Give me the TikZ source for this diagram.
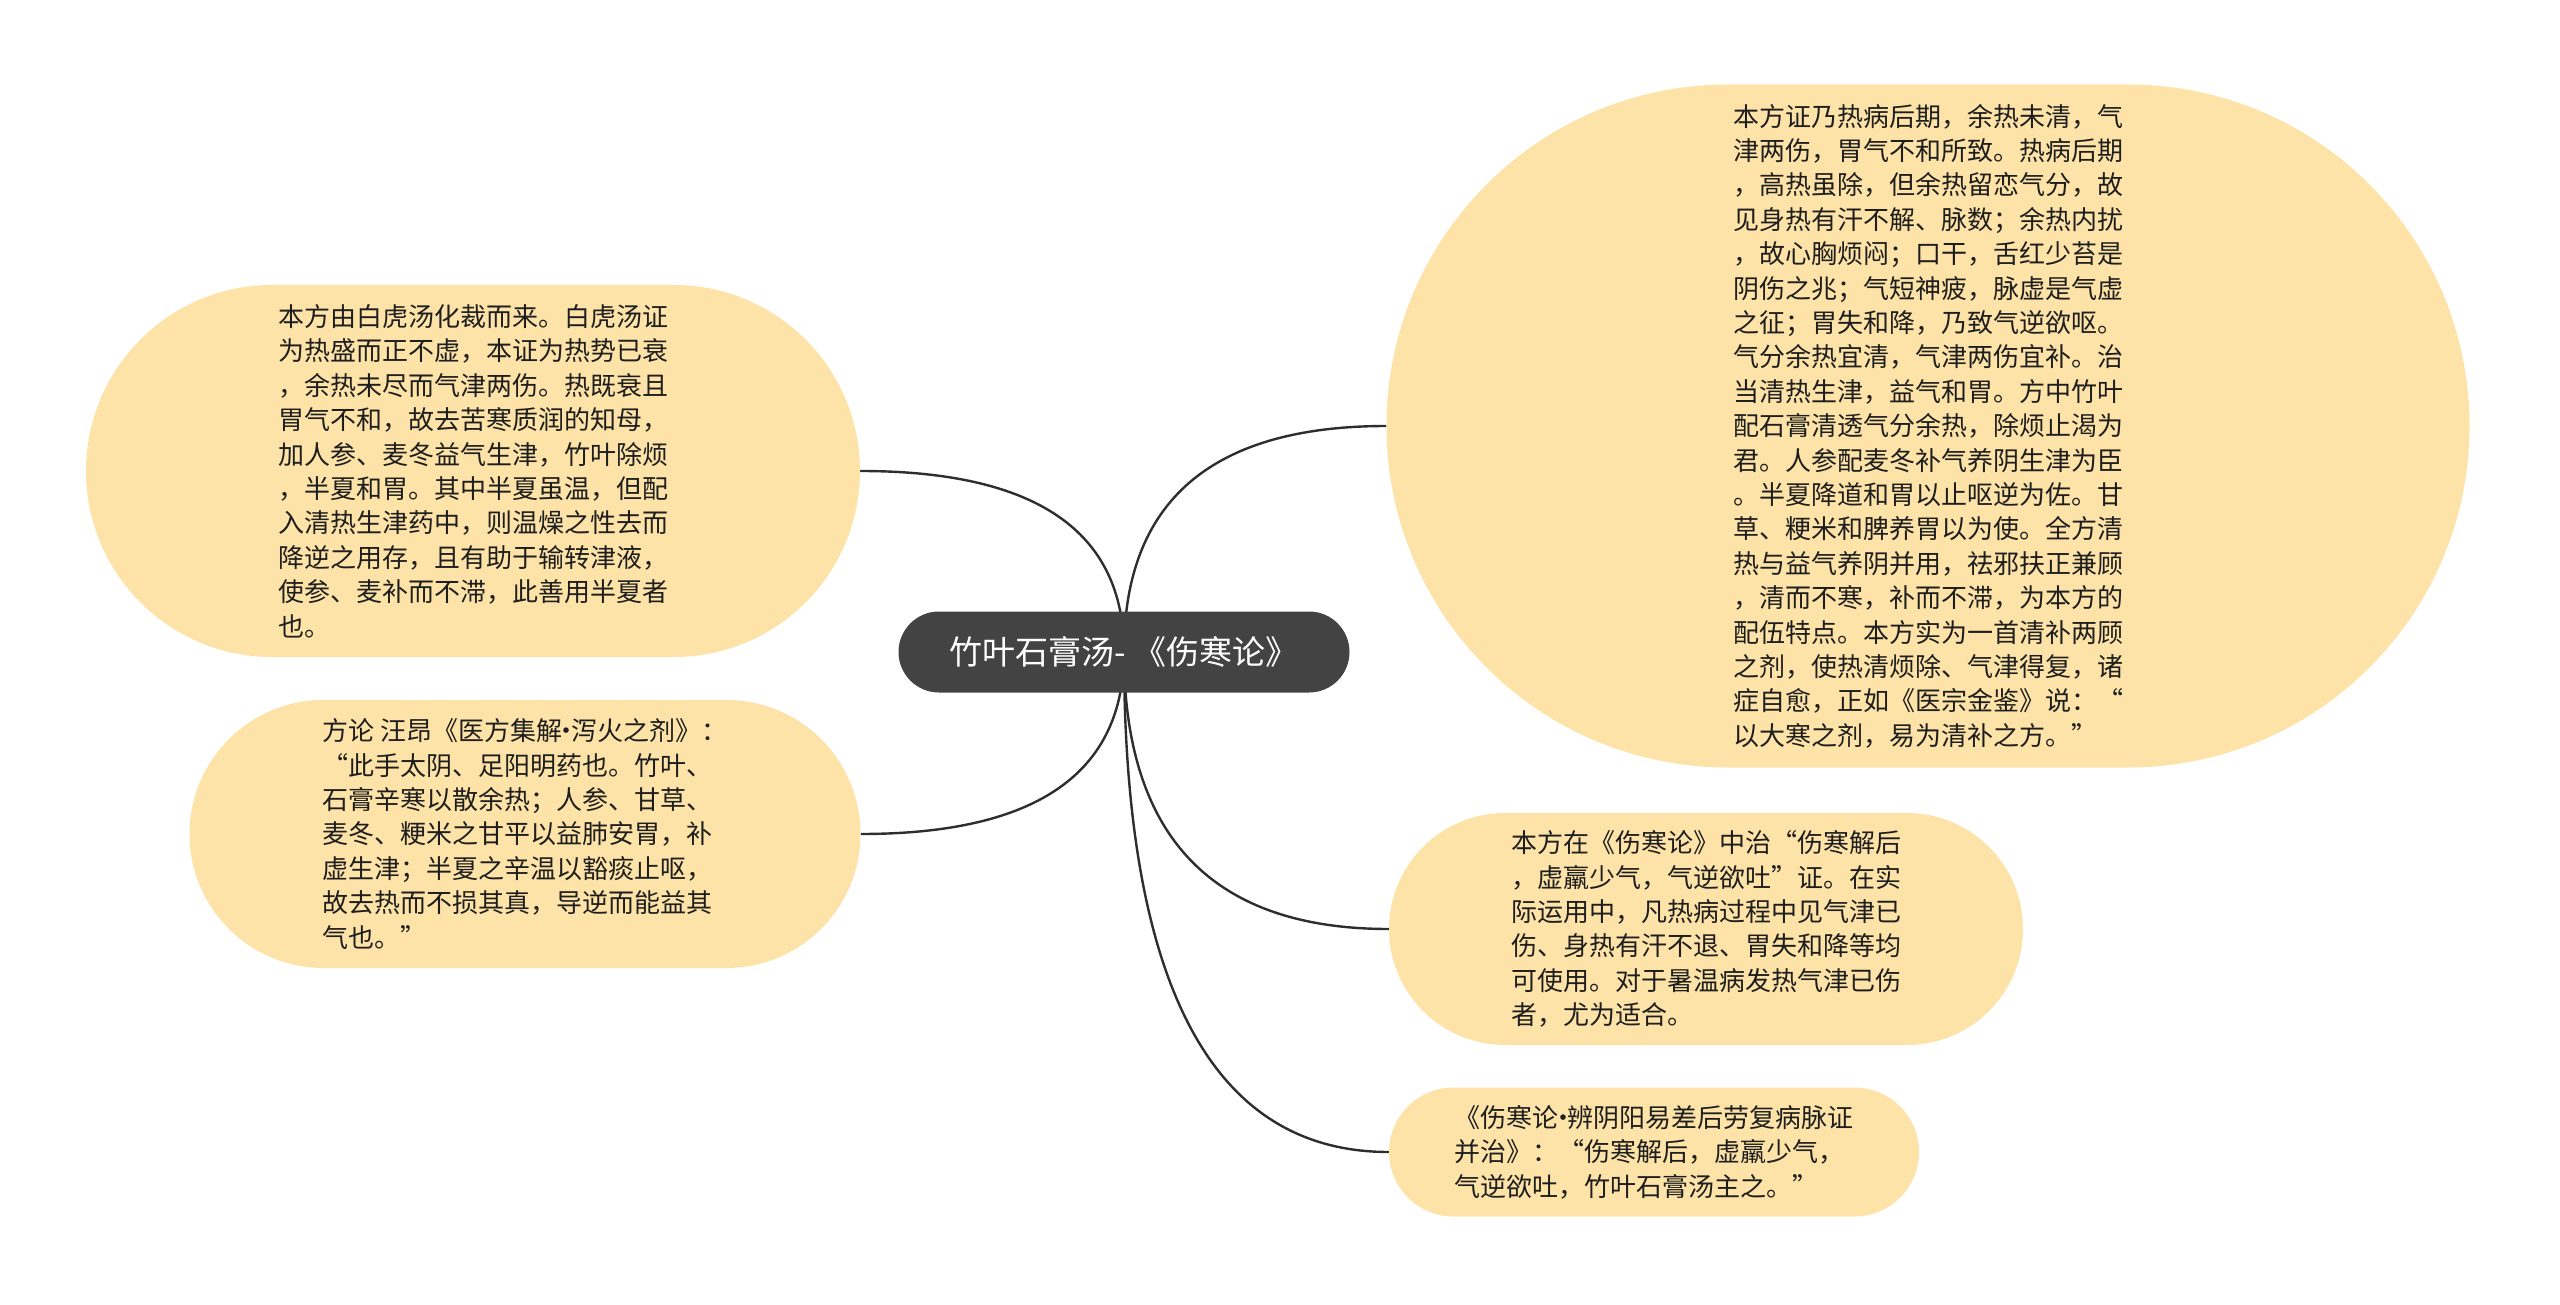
\documentclass[tikz,border=0pt]{standalone}
\usepackage{fontspec}
\newfontfamily\cjk{Noto Sans CJK SC}
\usetikzlibrary{shapes.misc,calc,backgrounds}
\definecolor{zhuti}{HTML}{434343}
\definecolor{ye}{HTML}{FDE3A8}
\definecolor{xian}{HTML}{2E2E2E}
\definecolor{zi}{HTML}{1E1E1E}
% 窄间隔号
\newcommand\jiandian{\makebox[.35em]{·}}
\tikzset{
  zhong/.style={rounded rectangle, fill=zhuti, text=white, inner sep=0pt,
    font=\cjk\fontsize{33}{40}\selectfont},
  zhi/.style={rounded rectangle, fill=ye, text=zi, align=left, inner sep=0pt,
    font=\cjk\fontsize{26}{34.4}\selectfont},
  lian/.style={draw=xian, line width=2.4pt}
}

\begin{document}
\begin{tikzpicture}[x=1pt,y=-1pt]
\useasboundingbox (0,0) rectangle (2560,1305);

% 中心主题
\node[zhong, minimum width=451pt, minimum height=81pt] (root) at (1124,652) {竹叶石膏汤- 《伤寒论》};

% 右侧分支
\node[zhi, minimum width=1083pt, minimum height=683pt] (bingji) at (1928,426) {本方证乃热病后期，余热未清，气\\
津两伤，胃气不和所致。热病后期\\
，高热虽除，但余热留恋气分，故\\
见身热有汗不解、脉数；余热内扰\\
，故心胸烦闷；口干，舌红少苔是\\
阴伤之兆；气短神疲，脉虚是气虚\\
之征；胃失和降，乃致气逆欲呕。\\
气分余热宜清，气津两伤宜补。治\\
当清热生津，益气和胃。方中竹叶\\
配石膏清透气分余热，除烦止渴为\\
君。人参配麦冬补气养阴生津为臣\\
。半夏降道和胃以止呕逆为佐。甘\\
草、粳米和脾养胃以为使。全方清\\
热与益气养阴并用，祛邪扶正兼顾\\
，清而不寒，补而不滞，为本方的\\
配伍特点。本方实为一首清补两顾\\
之剂，使热清烦除、气津得复，诸\\
症自愈，正如《医宗金鉴》说：“\\
以大寒之剂，易为清补之方。”};
\node[zhi, minimum width=634pt, minimum height=232pt] (yunyong) at (1706,929) {本方在《伤寒论》中治“伤寒解后\\
，虚羸少气，气逆欲吐”证。在实\\
际运用中，凡热病过程中见气津已\\
伤、身热有汗不退、胃失和降等均\\
可使用。对于暑温病发热气津已伤\\
者，尤为适合。};
\node[zhi, minimum width=530pt, minimum height=129pt] (yuanwen) at (1654,1152) {《伤寒论\jiandian 辨阴阳易差后劳复病脉证\\
并治》：“伤寒解后，虚羸少气，\\
气逆欲吐，竹叶石膏汤主之。”};

% 左侧分支
\node[zhi, minimum width=774pt, minimum height=372pt] (fangjie) at (473,471) {本方由白虎汤化裁而来。白虎汤证\\
为热盛而正不虚，本证为热势已衰\\
，余热未尽而气津两伤。热既衰且\\
胃气不和，故去苦寒质润的知母，\\
加人参、麦冬益气生津，竹叶除烦\\
，半夏和胃。其中半夏虽温，但配\\
入清热生津药中，则温燥之性去而\\
降逆之用存，且有助于输转津液，\\
使参、麦补而不滞，此善用半夏者\\
也。};
\node[zhi, minimum width=671pt, minimum height=268pt] (fanglun) at (525,834) {方论 汪昂《医方集解\jiandian 泻火之剂》：\\
“此手太阴、足阳明药也。竹叶、\\
石膏辛寒以散余热；人参、甘草、\\
麦冬、粳米之甘平以益肺安胃，补\\
虚生津；半夏之辛温以豁痰止呕，\\
故去热而不损其真，导逆而能益其\\
气也。”};

% 连线（压在中心主题下面）
\begin{scope}[on background layer]
\foreach \n in {bingji,yunyong,yuanwen}
  \draw[lian] (root.center) .. controls ($(root.center)!.667!(root.center |- \n.west)$)
    and ($(\n.west)!.667!(root.center |- \n.west)$) .. (\n.west);
\foreach \n in {fangjie,fanglun}
  \draw[lian] (root.center) .. controls ($(root.center)!.667!(root.center |- \n.east)$)
    and ($(\n.east)!.667!(root.center |- \n.east)$) .. (\n.east);
\end{scope}
\end{tikzpicture}
\end{document}
